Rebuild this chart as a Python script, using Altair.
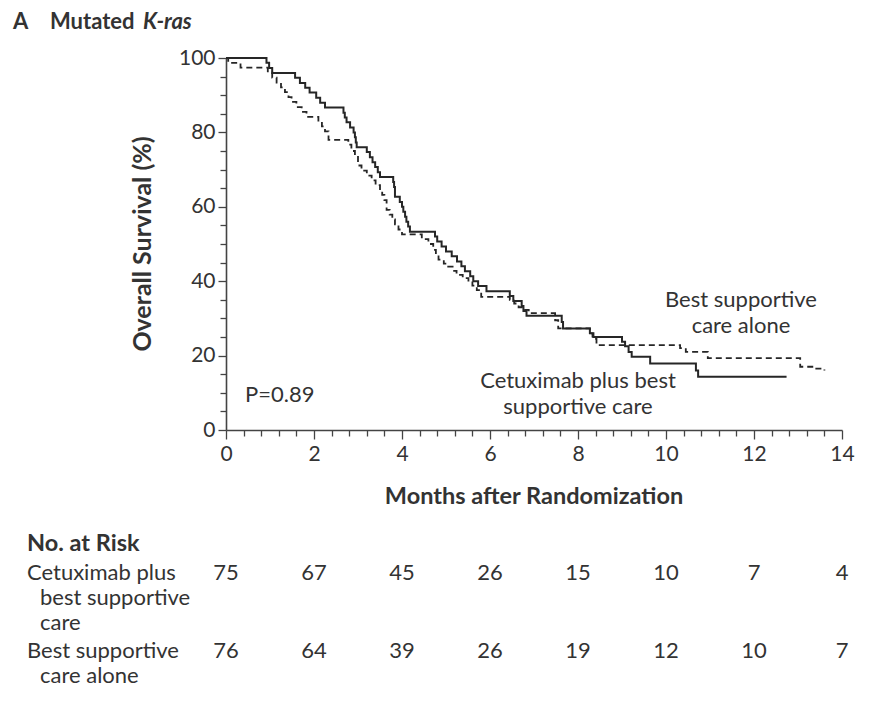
import altair as alt
import pandas as pd

# ---- data ----
cet_months = [0, 0.92, 0.98, 1.05, 1.57, 1.68, 1.8, 1.9, 2.05, 2.14, 2.25, 2.67, 2.7, 2.74,
              2.82, 2.9, 2.93, 2.95, 2.97, 3.2, 3.27, 3.33, 3.39, 3.45, 3.5, 3.8, 3.82, 3.84,
              3.95, 4.0, 4.03, 4.07, 4.1, 4.14, 4.18, 4.75, 4.8, 4.9, 5.0, 5.13, 5.25, 5.35,
              5.43, 5.55, 5.62, 5.73, 5.92, 6.45, 6.53, 6.72, 6.76, 6.83, 7.63, 7.66, 8.27,
              8.35, 9.0, 9.07, 9.15, 9.22, 9.64, 10.68, 10.73, 12.74]
cet_surv = [100, 98.7, 97.3, 96.0, 94.7, 93.3, 92.0, 90.7, 89.3, 88.0, 86.7, 85.3, 84.0, 82.7,
            81.3, 80.0, 78.7, 77.3, 76.0, 74.7, 73.3, 72.0, 70.7, 69.3, 68.0, 66.7, 65.3, 62.7,
            61.3, 60.0, 58.7, 57.3, 56.0, 54.7, 53.3, 52.0, 50.7, 49.3, 48.0, 46.7, 45.3, 44.0,
            42.7, 41.3, 40.0, 38.7, 37.3, 36.0, 34.7, 33.3, 32.0, 30.7, 29.0, 27.3, 26.0,
            25.0, 23.7, 22.5, 21.0, 19.7, 17.9, 16.0, 14.3, 14.3]

bsc_months = [0, 0.05, 0.33, 0.95, 1.05, 1.15, 1.25, 1.34, 1.42, 1.49, 1.6, 1.72, 1.83, 2.1,
              2.18, 2.25, 2.33, 2.78, 2.85, 2.93, 3.0, 3.08, 3.2, 3.31, 3.4, 3.5, 3.55, 3.6,
              3.65, 3.72, 3.78, 3.84, 3.92, 4.0, 4.45, 4.6, 4.71, 4.77, 4.83, 4.95, 5.02, 5.15,
              5.24, 5.38, 5.51, 5.6, 5.7, 5.8, 6.45, 6.55, 6.65, 6.75, 6.88, 7.48, 7.55, 8.27,
              8.33, 8.42, 10.32, 10.45, 10.95, 13.05, 13.36, 13.6]
bsc_surv = [100, 98.7, 97.4, 96.1, 94.7, 93.4, 92.1, 90.8, 89.5, 88.2, 86.8, 85.5, 84.2, 82.9,
            81.6, 80.3, 78.0, 76.7, 75.0, 73.7, 71.1, 69.7, 68.4, 67.1, 65.8, 64.5, 63.2, 61.8,
            59.2, 57.9, 56.6, 55.3, 53.9, 52.6, 51.3, 50.0, 48.4, 47.1, 45.8, 44.7, 43.9, 42.8,
            41.7, 40.8, 39.9, 38.8, 37.6, 35.8, 35.0, 34.0, 33.0, 32.3, 31.4, 29.5, 27.3, 26.0,
            24.5, 22.8, 22.0, 21.0, 19.3, 17.0, 16.5, 16.0]

risk_months = [0, 2, 4, 6, 8, 10, 12, 14]
risk_cet = [75, 67, 45, 26, 15, 10, 7, 4]
risk_bsc = [76, 64, 39, 26, 19, 12, 10, 7]

x_tick_values = [round(i * 0.4, 1) for i in range(36)]
y_tick_values = list(range(0, 101, 5))

FONT = "Lato"
INK = "#333333"
LINE = "#262626"
TXT = 22      # regular text size
BOLD = 23.5   # bold heading size

cet_df = pd.DataFrame({"month": cet_months, "surv": cet_surv})
bsc_df = pd.DataFrame({"month": bsc_months, "surv": bsc_surv})
risk_cet_df = pd.DataFrame({"month": risk_months, "n": risk_cet})
risk_bsc_df = pd.DataFrame({"month": risk_months, "n": risk_bsc})

x_scale = alt.Scale(domain=[0, 14], nice=False, zero=False)
y_scale = alt.Scale(domain=[0, 100], nice=False)

x_major = "abs(datum.value - round(datum.value / 2) * 2) < 0.001"
x_axis = alt.Axis(
    values=x_tick_values, title=None, grid=False,
    labelExpr=f"{x_major} ? format(datum.value, 'd') : ''",
    labelOverlap=False, labelFlush=False,
    labelFont=FONT, labelFontSize=21, labelColor=INK, labelPadding=4,
    tickSize={"condition": {"test": x_major, "value": 9}, "value": 6},
    tickColor="#444", tickWidth=1.3, domainColor="#444", domainWidth=1.6,
)
y_major = "datum.value % 20 === 0"
y_axis = alt.Axis(
    values=y_tick_values, title=None, grid=False,
    labelExpr=f"{y_major} ? format(datum.value, 'd') : ''",
    labelOverlap=False, labelFlush=False,
    labelFont=FONT, labelFontSize=21, labelColor=INK, labelPadding=3,
    tickSize={"condition": {"test": y_major, "value": 8}, "value": 6},
    tickColor="#444", tickWidth=1.3, domainColor="#444", domainWidth=1.6,
)


def xenc():
    return alt.X("month:Q", scale=x_scale, axis=x_axis, title=None)


def yenc():
    return alt.Y("surv:Q", scale=y_scale, axis=y_axis, title=None)


cet_line = alt.Chart(cet_df).mark_line(
    interpolate="step-after", strokeWidth=2, color=LINE
).encode(x=xenc(), y=yenc())

bsc_line = alt.Chart(bsc_df).mark_line(
    interpolate="step-after", strokeWidth=1.8, color=LINE, strokeDash=[6, 4]
).encode(x=xenc(), y=yenc())


def label(text, x, y, size=TXT, weight="normal", style="normal", align="left", angle=0):
    return alt.Chart(alt.Data(values=[{}])).mark_text(
        x=x, y=y, font=FONT, fontSize=size, fontWeight=weight, fontStyle=style,
        align=align, baseline="middle", color=INK, angle=angle,
    ).encode(text=alt.value(text))


labels = [
    label("A", -213, -36, size=22, weight="bold"),
    label("Mutated", -176, -36, size=22, weight="bold"),
    label("K-ras", -83, -36, size=22, weight="bold", style="italic"),
    label("Overall Survival (%)", -83, 186, size=25, weight="bold", align="center", angle=270),
    label("Months after Randomization", 308, 439, size=BOLD, weight="bold", align="center"),
    label("Best supportive", 515, 242, align="center"),
    label("care alone", 515, 268, align="center"),
    label("Cetuximab plus best", 352, 323, align="center"),
    label("supportive care", 352, 349, align="center"),
    label("P=0.89", 19, 337),
    label("No. at Risk", -199, 486, size=BOLD, weight="bold"),
    label("Cetuximab plus", -199, 515),
    label("best supportive", -186, 540),
    label("care", -186, 565),
    label("Best supportive", -199, 593),
    label("care alone", -186, 618),
]

risk1 = alt.Chart(risk_cet_df).mark_text(
    font=FONT, fontSize=TXT, color=INK, align="center", baseline="middle"
).encode(x=xenc(), y=alt.value(515), text="n:Q")
risk2 = alt.Chart(risk_bsc_df).mark_text(
    font=FONT, fontSize=TXT, color=INK, align="center", baseline="middle"
).encode(x=xenc(), y=alt.value(593), text="n:Q")

chart = alt.layer(bsc_line, cet_line, risk1, risk2, *labels).properties(
    width=616, height=372,
    padding={"left": 218, "top": 50, "right": 25, "bottom": 275},
    autosize=alt.AutoSizeParams(type="none"),
    background="white",
).configure_view(stroke=None)

chart.save("out.html", embed_options={"renderer": "svg", "actions": False})
